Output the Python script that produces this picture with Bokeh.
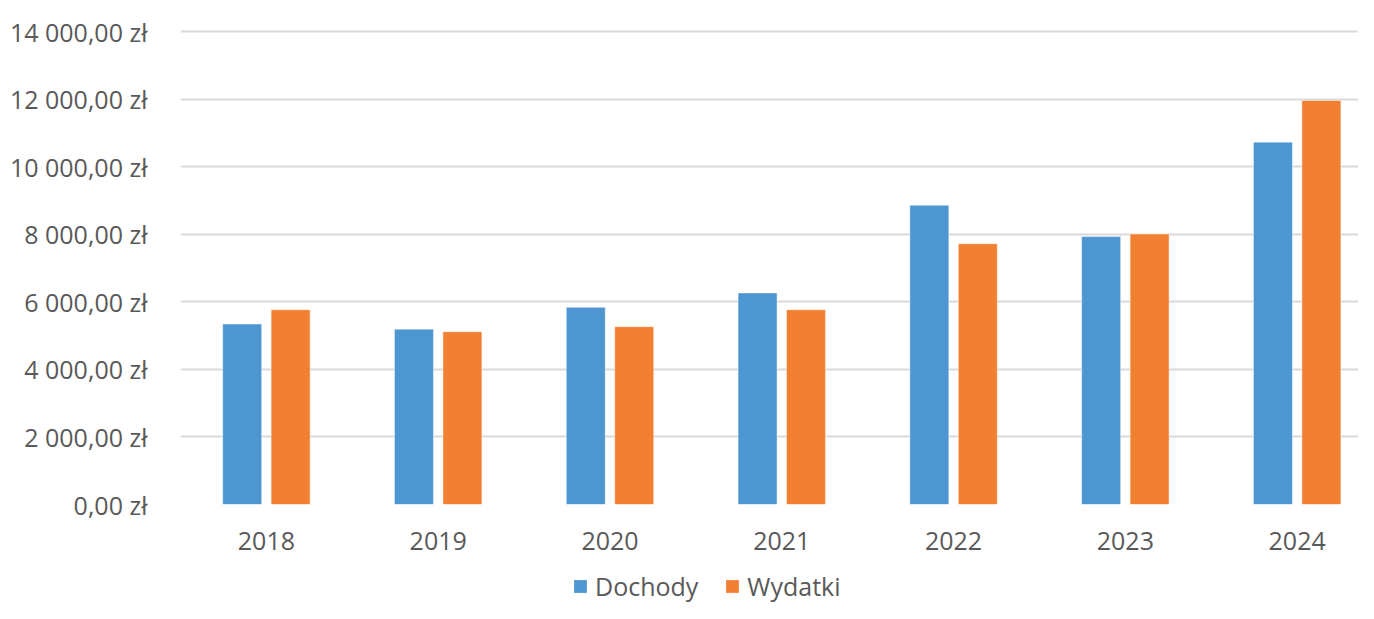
from bokeh.plotting import figure
from bokeh.layouts import column
from bokeh.models import ColumnDataSource, Range1d, FixedTicker, Legend, LegendItem
from bokeh.transform import dodge
from bokeh.embed import file_html
from bokeh.resources import INLINE

years = [2018, 2019, 2020, 2021, 2022, 2023, 2024]
dochody = [5340, 5190, 5835, 6260, 8860, 7930, 10725]
wydatki = [5765, 5115, 5265, 5765, 7720, 8005, 11960]
series_names = ["Dochody", "Wydatki"]
y_ticks = [0, 2000, 4000, 6000, 8000, 10000, 12000, 14000]
y_tick_labels = ["0,00 zł", "2 000,00 zł", "4 000,00 zł", "6 000,00 zł",
                 "8 000,00 zł", "10 000,00 zł", "12 000,00 zł", "14 000,00 zł"]
x_tick_labels = [str(y) for y in years]

FONT = "Open Sans"
TXT = "#595959"
BLUE = "#4D96D1"
ORANGE = "#F28033"

src = ColumnDataSource(dict(x=years, d=dochody, w=wydatki))

p = figure(width=1358, height=560, output_backend="svg", toolbar_location=None,
           x_range=Range1d(2017.5, 2024.357), y_range=Range1d(0, 14060),
           min_border_left=180, min_border_right=0, min_border_top=29,
           min_border_bottom=56)
p.outline_line_color = None
p.background_fill_color = "white"
p.border_fill_color = "white"

p.vbar(x=dodge("x", -0.141, range=p.x_range), top="d", width=0.227, source=src,
       fill_color=BLUE, line_color="white", line_alpha=0.45, line_width=1)
p.vbar(x=dodge("x", 0.141, range=p.x_range), top="w", width=0.227, source=src,
       fill_color=ORANGE, line_color="white", line_alpha=0.45, line_width=1)

p.xgrid.grid_line_color = None
p.ygrid.grid_line_color = "#d9d9d9"
p.ygrid.grid_line_width = 2

p.yaxis.ticker = FixedTicker(ticks=y_ticks)
p.yaxis.major_label_overrides = {t: l for t, l in zip(y_ticks, y_tick_labels)}
p.xaxis.ticker = FixedTicker(ticks=years)
p.xaxis.major_label_overrides = {y: l for y, l in zip(years, x_tick_labels)}

for ax in (p.xaxis[0], p.yaxis[0]):
    ax.axis_line_color = None
    ax.major_tick_line_color = None
    ax.minor_tick_line_color = None
    ax.major_label_text_font = FONT
    ax.major_label_text_font_size = "25px"
    ax.major_label_text_color = TXT
p.yaxis.major_label_standoff = 27
p.xaxis.major_label_standoff = 21

# legend strip below the chart (swatch renderers hold no visible data)
p2 = figure(width=1358, height=43, output_backend="svg", toolbar_location=None,
            x_axis_location=None, y_axis_location=None, min_border=0,
            x_range=Range1d(0, 1), y_range=Range1d(0, 1))
p2.outline_line_color = None
p2.grid.visible = False
nan = float("nan")
l1 = p2.vbar(x=[nan], top=[nan], width=0.1, fill_color=BLUE, line_color=None)
l2 = p2.vbar(x=[nan], top=[nan], width=0.1, fill_color=ORANGE, line_color=None)
legend = Legend(items=[LegendItem(label=series_names[0], renderers=[l1]),
                       LegendItem(label=series_names[1], renderers=[l2])],
                orientation="horizontal", location=(392, 0),
                label_text_font=FONT, label_text_font_size="25px",
                label_text_color=TXT, glyph_width=16, glyph_height=16,
                label_height=25, label_standoff=7, spacing=26, padding=0, margin=0,
                border_line_color=None, background_fill_alpha=0)
p2.add_layout(legend, "center")

layout = column(p, p2, spacing=0)
open("out.html", "w").write(file_html(layout, INLINE))
